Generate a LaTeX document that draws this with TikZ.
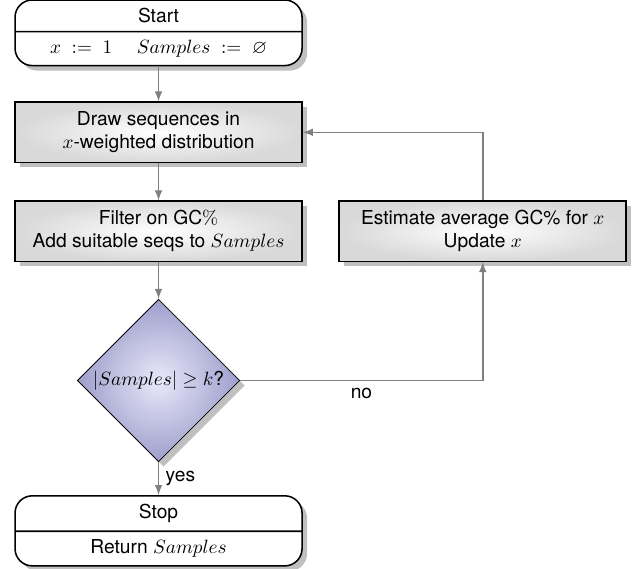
\documentclass[tikz,border=0pt]{standalone}
\usepackage[no-math]{fontspec}
\setmainfont{TeX Gyre Heros}
\usepackage{amssymb}
\usetikzlibrary{shapes.geometric,shapes.multipart,shadows}

\definecolor{testout}{RGB}{158,158,204}
\definecolor{testin}{RGB}{232,232,250}

\tikzset{
    terminal/.style={rectangle split, rectangle split parts=2, draw, thick,
        fill=white, rounded corners=9pt, drop shadow, minimum width=5.25cm, inner ysep=4pt},
    process/.style={rectangle, draw, thick, drop shadow, inner color=white, outer color=gray!30,
        minimum width=5.25cm, minimum height=1.1cm, align=center},
    decision/.style={diamond, draw, drop shadow, inner color=testin, outer color=testout,
        minimum size=2.97cm, inner sep=0pt},
    flow/.style={draw=gray, thick, -latex}
}

\begin{document}
\begin{tikzpicture}
    \useasboundingbox (0,0) rectangle (11.67,-10.4);
    \node[terminal] (start) at (2.9,-0.6) {Start \nodepart{second} $x \;:=\; 1 \quad\; Samples \;:=\; \varnothing$};
    \node[process] (sample) at (2.9,-2.42) {Draw sequences in\\$x$-weighted distribution};
    \node[process] (filter) at (2.9,-4.23) {Filter on GC$\%$\\Add suitable seqs to $Samples$};
    \node[decision] (check) at (2.9,-6.96) {$|Samples| \geq k$?};
    \node[terminal] (stop) at (2.9,-9.71) {Stop \nodepart{second} Return $Samples$};
    \node[process] (estimate) at (8.83,-4.23) {Estimate average GC\% for $x$\\Update $x$};

    \draw[flow] (start) -- (sample);
    \draw[flow] (sample) -- (filter);
    \draw[flow] (filter) -- (check);
    \draw[flow] (check) -- node[right] {yes} (stop);
    \draw[flow] (check) -| node[pos=0.25,below] {no} (estimate);
    \draw[flow] (estimate) |- (sample);
\end{tikzpicture}
\end{document}
